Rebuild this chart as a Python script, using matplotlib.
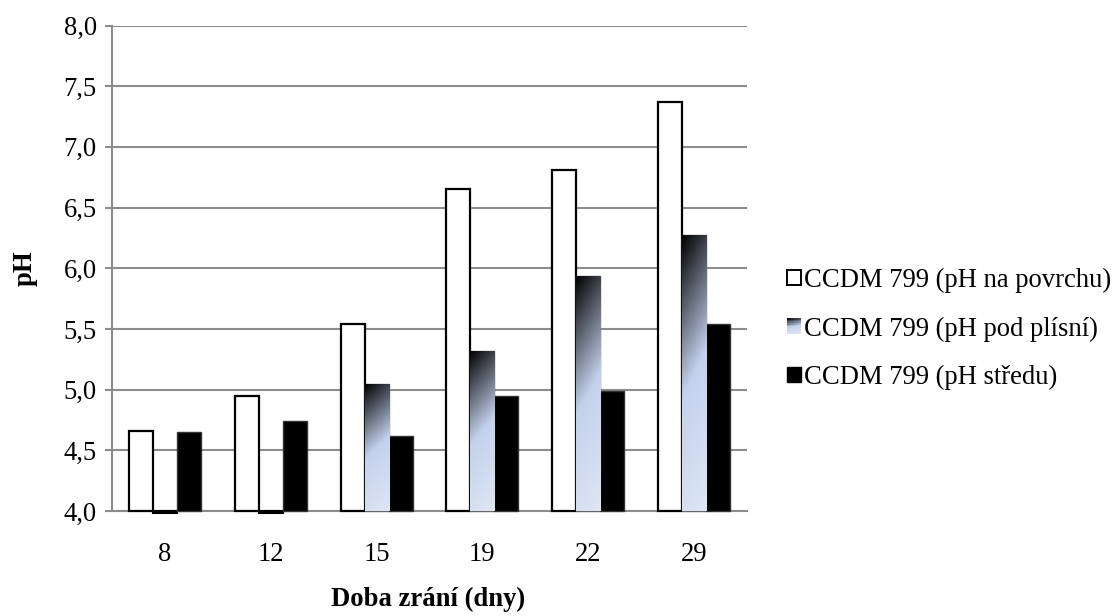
import matplotlib
matplotlib.use('Agg')
import matplotlib.pyplot as plt
import numpy as np
from matplotlib.colors import LinearSegmentedColormap
from matplotlib.patches import Rectangle
from matplotlib.legend_handler import HandlerBase

days = ['8', '12', '15', '19', '22', '29']
ph_povrch = [4.66, 4.95, 5.54, 6.65, 6.81, 7.37]
ph_pod_plisni = [3.98, 3.98, 5.05, 5.32, 5.94, 6.27]
ph_stred = [4.65, 4.74, 4.62, 4.95, 4.99, 5.54]
series_labels = ['CCDM 799 (pH na povrchu)', 'CCDM 799 (pH pod plísní)', 'CCDM 799 (pH středu)']
y_ticks = [4.0, 4.5, 5.0, 5.5, 6.0, 6.5, 7.0, 7.5, 8.0]
y_tick_labels = ['4,0', '4,5', '5,0', '5,5', '6,0', '6,5', '7,0', '7,5', '8,0']

plt.rcParams['font.family'] = ['Liberation Serif', 'DejaVu Serif']
FS = 19.2
base = 4.0

# dark-to-light blue fill of the middle series
grad_cmap = LinearSegmentedColormap.from_list(
    'mould', [(0, '#000000'), (0.5, '#c3d1ec'), (1, '#dfe6f4')])
yy, xx = np.mgrid[0:1:200j, 0:1:40j]
grad = 0.85 * yy + 0.15 * xx


class GradientHandler(HandlerBase):
    def create_artists(self, legend, orig_handle, xdescent, ydescent,
                       width, height, fontsize, trans):
        n = 10
        arts = []
        for i in range(n):
            for j in range(n):
                t = 1 - (i + 0.5) / n
                v = 0.85 * t + 0.15 * (j + 0.5) / n
                r = Rectangle((-xdescent + j * width / n, -ydescent + i * height / n),
                              width / n * 1.05, height / n * 1.05,
                              facecolor=grad_cmap(v), edgecolor='none',
                              antialiased=False, transform=trans)
                arts.append(r)
        return arts


fig = plt.figure(figsize=(11.17, 6.16), dpi=100)
ax = fig.add_axes([112 / 1117, 1 - 511 / 616, 635 / 1117, 485.5 / 616])

x = np.arange(len(days))
w = 0.227

b1 = ax.bar(x - w, np.array(ph_povrch) - base, w, bottom=base, color='white',
            edgecolor='black', linewidth=1.6, zorder=3, clip_on=False)
b2 = ax.bar(x, np.array(ph_pod_plisni) - base, w, bottom=base, color='#000000',
            edgecolor='#666666', linewidth=1.0, zorder=3, clip_on=False)
b3 = ax.bar(x + w, np.array(ph_stred) - base, w, bottom=base, color='black',
            edgecolor='#333333', linewidth=1.0, zorder=3, clip_on=False)

for bar in b2:
    h = bar.get_height()
    if h <= 0:
        bar.set_edgecolor('black')
        bar.set_linewidth(1.5)
        continue
    x0 = bar.get_x()
    im = ax.imshow(grad, cmap=grad_cmap, vmin=0, vmax=1, origin='upper',
                   extent=[x0, x0 + bar.get_width(), base, base + h],
                   aspect='auto', zorder=3.1, interpolation='bilinear')
    im.set_clip_path(bar)

ax.set_xlim(-0.5, len(days) - 0.5)
ax.set_ylim(4.0, 8.0)
ax.set_yticks(y_ticks)
ax.set_yticklabels(y_tick_labels)
ax.set_xticks(x)
ax.set_xticklabels(days)
ax.yaxis.grid(True, color='#8c8c8c', linewidth=1.5, zorder=0)
ax.set_axisbelow(True)
for s in ['top', 'right']:
    ax.spines[s].set_visible(False)
for s in ['left', 'bottom']:
    ax.spines[s].set_color('#8c8c8c')
    ax.spines[s].set_linewidth(1.5)
ax.tick_params(axis='y', length=5, width=1.5, color='#8c8c8c', labelsize=FS, pad=6)
ax.tick_params(axis='x', length=0, labelsize=FS, pad=22)

fig.text(25 / 1117, 1 - 268 / 616, 'pH', rotation=90, fontsize=FS,
         fontweight='bold', ha='center', va='center')
fig.text(428 / 1117, 1 - 599 / 616, 'Doba zrání (dny)', fontsize=FS,
         fontweight='bold', ha='center', va='center')

h1 = Rectangle((0, 0), 1, 1, facecolor='white', edgecolor='black', linewidth=1.4)
h2 = Rectangle((0, 0), 1, 1, facecolor='#888888')
h3 = Rectangle((0, 0), 1, 1, facecolor='black', edgecolor='black')
fig.legend([h1, h2, h3], series_labels, handler_map={h2: GradientHandler()},
           loc='center left', bbox_to_anchor=(787 / 1117, 1 - 329 / 616),
           frameon=False, fontsize=FS, borderpad=0, borderaxespad=0,
           handlelength=0.52, handleheight=0.52, handletextpad=0.1,
           labelspacing=0.88)

fig.savefig('out.png', dpi=100)
